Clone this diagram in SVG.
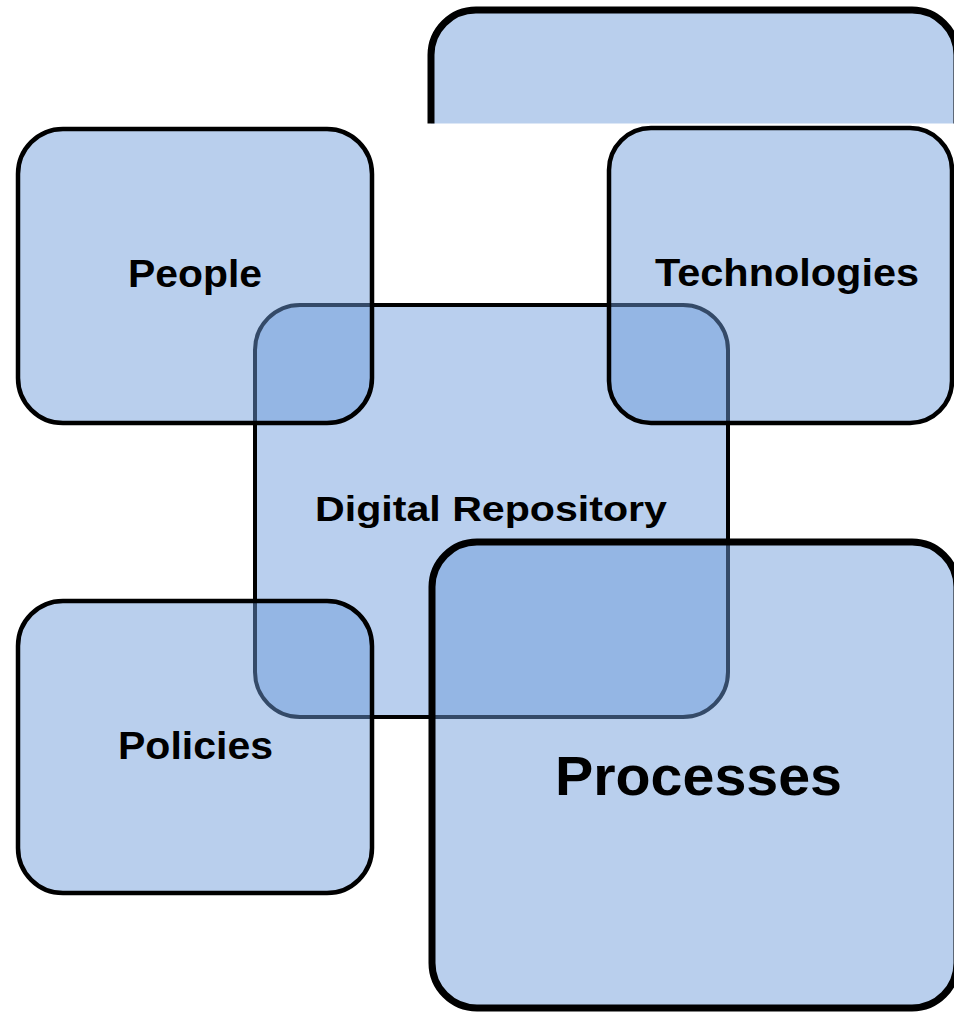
<svg xmlns="http://www.w3.org/2000/svg" width="954" height="1013" viewBox="0 0 954 1013">
  <style>
    .hub { fill: #B9CFEE; stroke: #000; stroke-width: 4; }
    .box { fill: #6D9BD9; fill-opacity: 0.48; stroke: #000; stroke-width: 4.5; }
    .thick { stroke-width: 7; }
    .lbl { font-family: "Liberation Sans", Arial, sans-serif; font-weight: bold; fill: #000; text-anchor: middle; }
  </style>
  <defs>
    <clipPath id="topcut">
      <rect x="0" y="0" width="954" height="123.5"/>
    </clipPath>
  </defs>
  <rect x="0" y="0" width="954" height="1013" fill="#FFFFFF"/>
  <g id="connectors"></g>
  <g id="digital-repository">
    <rect class="hub" x="255" y="305" width="473" height="412" rx="45" ry="45"/>
    <text class="lbl" x="491" y="521" font-size="35" textLength="352" lengthAdjust="spacingAndGlyphs">Digital Repository</text>
  </g>
  <g id="top-box" clip-path="url(#topcut)">
    <rect class="box thick" x="431" y="10" width="526" height="300" rx="45" ry="45"/>
  </g>
  <g id="people">
    <rect class="box" x="18" y="129" width="354" height="294" rx="45" ry="45"/>
    <text class="lbl" x="195" y="287" font-size="39" textLength="134" lengthAdjust="spacingAndGlyphs">People</text>
  </g>
  <g id="technologies">
    <rect class="box" x="609" y="128" width="343" height="295" rx="42" ry="42"/>
    <text class="lbl" x="787" y="286" font-size="38" textLength="264" lengthAdjust="spacingAndGlyphs">Technologies</text>
  </g>
  <g id="policies">
    <rect class="box" x="18" y="601" width="354" height="292" rx="45" ry="45"/>
    <text class="lbl" x="195.5" y="759" font-size="38" textLength="155" lengthAdjust="spacingAndGlyphs">Policies</text>
  </g>
  <g id="processes">
    <rect class="box thick" x="432" y="542" width="525" height="466" rx="45" ry="45"/>
    <text class="lbl" x="698.5" y="795" font-size="56" textLength="287" lengthAdjust="spacingAndGlyphs">Processes</text>
  </g>
</svg>
